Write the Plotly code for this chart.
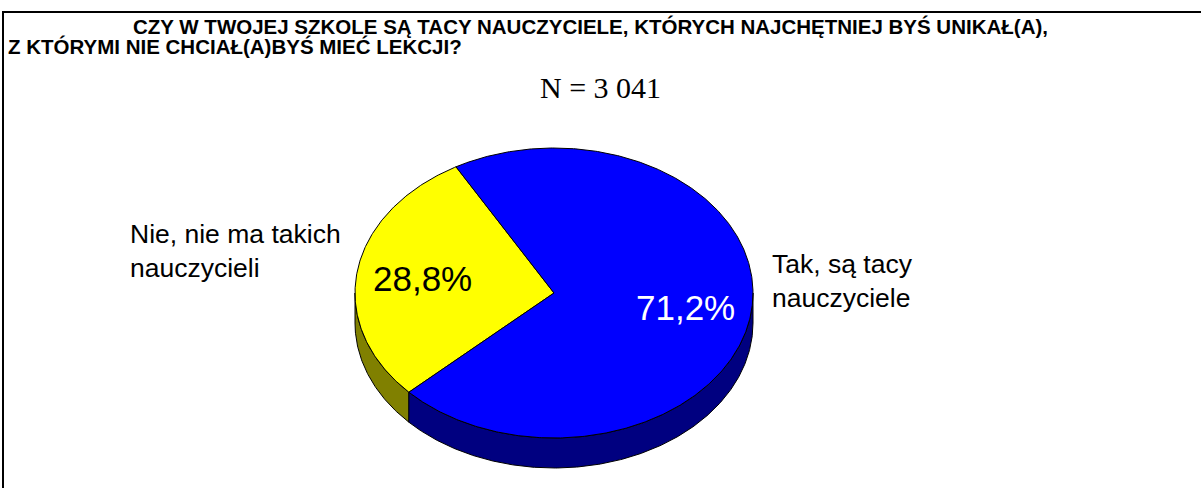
import numpy as np
import plotly.graph_objects as go

# ---- data ----
labels = ["Tak, są tacy nauczyciele", "Nie, nie ma takich nauczycieli"]
label_text = ["Tak, są tacy<br>nauczyciele", "Nie, nie ma takich<br>nauczycieli"]
values = [71.2, 28.8]
top_colors = ["#0000FF", "#FFFF00"]
side_colors = ["#000080", "#808000"]
pct_colors = ["white", "black"]
title_line1 = "CZY W TWOJEJ SZKOLE SĄ TACY NAUCZYCIELE, KTÓRYCH NAJCHĘTNIEJ BYŚ UNIKAŁ(A),"
title_line2 = "Z KTÓRYMI NIE CHCIAŁ(A)BYŚ MIEĆ LEKCJI?"
n_text = "N = 3 041"

# ---- geometry (layout) ----
W, H = 1201, 488
cx, cy = 554, 293
rx, ry = 199, 145
depth = 30
start_angle = 119.5  # degrees, counter-clockwise boundary of the yellow slice

SANS = "Liberation Sans, Arial, sans-serif"
SERIF = "Liberation Serif, Times New Roman, serif"

def pt(t_deg, dy=0.0, r=1.0):
    t = np.radians(t_deg)
    return cx + r * rx * np.cos(t), cy - r * ry * np.sin(t) + dy

total = sum(values)
spans = {}
a = start_angle
for idx in [1, 0]:
    sweep = values[idx] / total * 360.0
    spans[idx] = (a, a + sweep)
    a += sweep

fig = go.Figure()

# side faces (front half: 180..360 deg)
for idx in [1, 0]:
    a0, a1 = spans[idx]
    segs = []
    for off in (0, 360, -360):
        s0 = max(a0 + off, 180)
        s1 = min(a1 + off, 360)
        if s1 > s0:
            segs.append((s0, s1))
    for s0, s1 in segs:
        ts = np.linspace(s0, s1, max(int((s1 - s0) * 2), 2))
        xt, yt = pt(ts)
        xb, yb = pt(ts[::-1], dy=depth)
        xs = np.concatenate([xt, xb, xt[:1]])
        ys = np.concatenate([yt, yb, yt[:1]])
        fig.add_trace(go.Scatter(x=xs, y=ys, mode="lines", fill="toself",
                                 fillcolor=side_colors[idx],
                                 line=dict(color="black", width=1),
                                 hoverinfo="skip", showlegend=False))

# top slices
for idx in [1, 0]:
    a0, a1 = spans[idx]
    ts = np.linspace(a0, a1, max(int((a1 - a0) * 2), 2))
    xa, ya = pt(ts)
    xs = np.concatenate([[cx], xa, [cx]])
    ys = np.concatenate([[cy], ya, [cy]])
    fig.add_trace(go.Scatter(x=xs, y=ys, mode="lines", fill="toself",
                             fillcolor=top_colors[idx],
                             line=dict(color="black", width=1),
                             hoverinfo="skip", showlegend=False))

# percentage labels
for idx in [0, 1]:
    a0, a1 = spans[idx]
    mid = (a0 + a1) / 2
    lx, ly = pt(mid, r=0.67)
    fig.add_annotation(x=lx, y=ly, text=f"{values[idx]:.1f}".replace(".", ",") + "%",
                       showarrow=False, xanchor="center", yanchor="middle",
                       font=dict(family=SANS, size=35, color=pct_colors[idx]))

# category labels
fig.add_annotation(x=128, y=251, text=label_text[1], showarrow=False,
                   xanchor="left", yanchor="middle", align="left",
                   font=dict(family=SANS, size=26.5, color="black"))
fig.add_annotation(x=770, y=281, text=label_text[0], showarrow=False,
                   xanchor="left", yanchor="middle", align="left",
                   font=dict(family=SANS, size=26.5, color="black"))

# title
fig.add_annotation(x=131, y=26, text=f"<b>{title_line1}</b>", showarrow=False,
                   xanchor="left", yanchor="middle",
                   font=dict(family=SANS, size=20.5, color="black"))
fig.add_annotation(x=6, y=46, text=f"<b>{title_line2}</b>", showarrow=False,
                   xanchor="left", yanchor="middle",
                   font=dict(family=SANS, size=20.5, color="black"))
fig.add_annotation(x=600, y=87, text=n_text, showarrow=False,
                   xanchor="center", yanchor="middle",
                   font=dict(family=SERIF, size=30, color="black"))

# frame
fig.add_shape(type="rect", x0=3, y0=12, x1=1215, y1=510, line=dict(color="black", width=2),
              layer="below")

fig.update_xaxes(range=[0, W], visible=False, fixedrange=True)
fig.update_yaxes(range=[H, 0], visible=False, fixedrange=True)
fig.update_layout(width=W, height=H, margin=dict(l=0, r=0, t=0, b=0),
                  plot_bgcolor="white", paper_bgcolor="white", showlegend=False)

fig.write_html("out.html", config={"displayModeBar": False},
               post_script="document.body.style.margin='0';document.body.style.overflow='hidden';")
